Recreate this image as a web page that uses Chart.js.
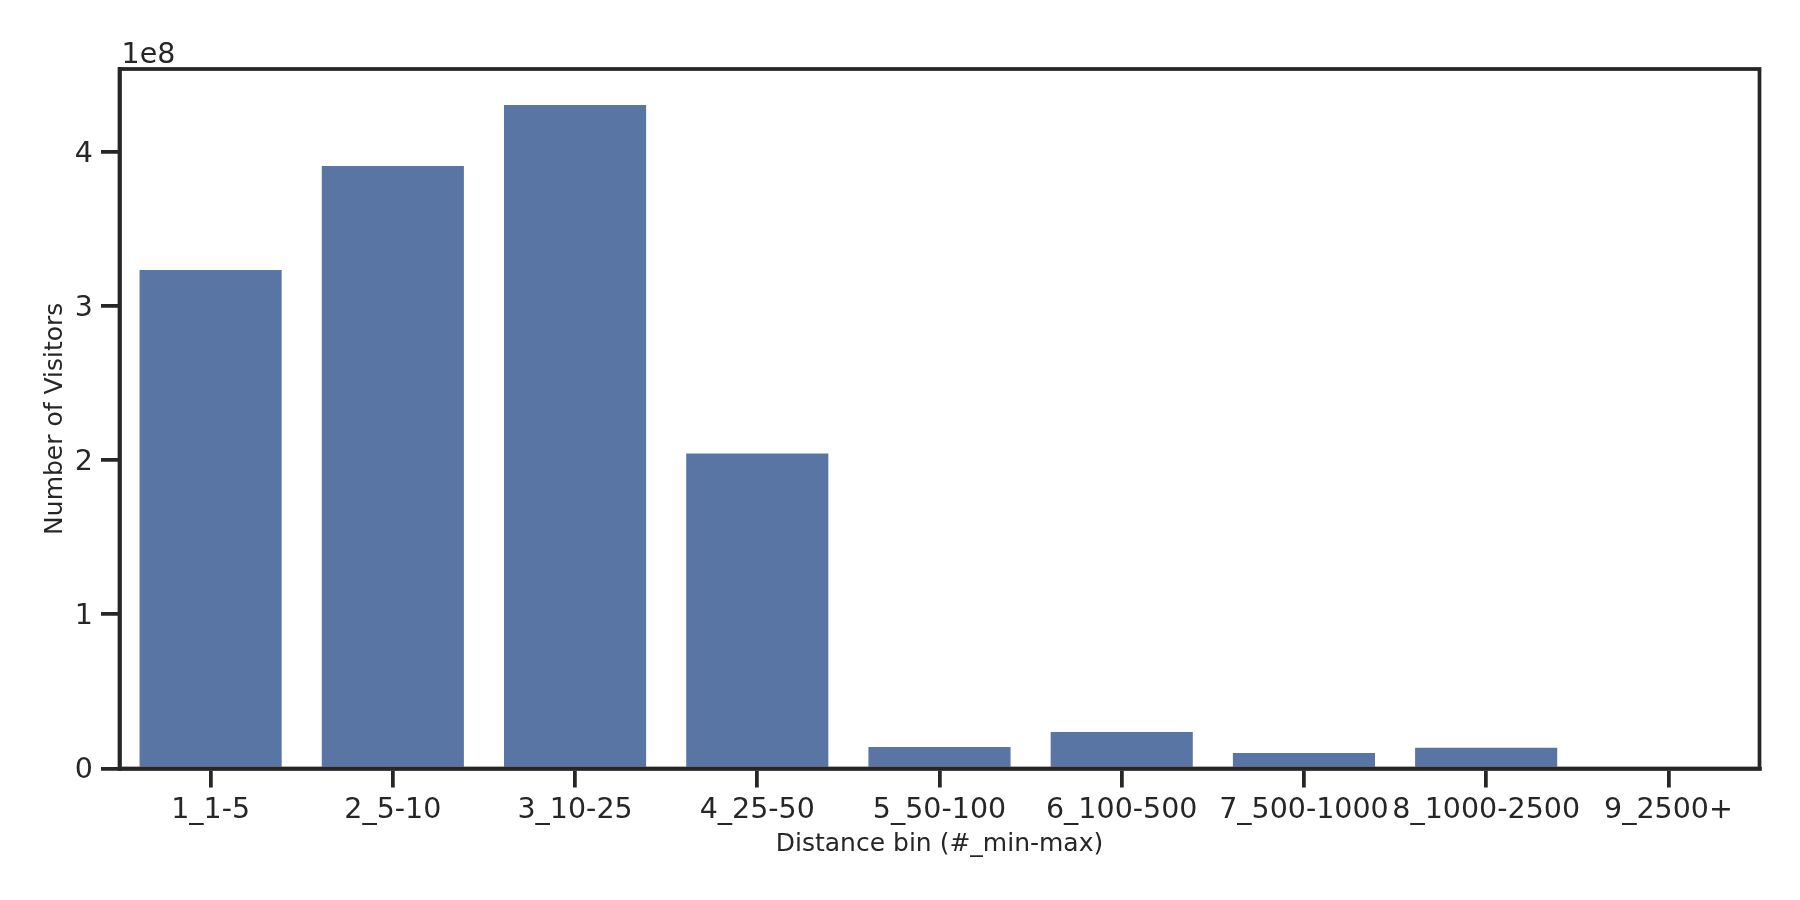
<!DOCTYPE html>
<html>
<head>
<meta charset="utf-8">
<title>Number of Visitors by distance bin</title>
<script src="https://cdn.jsdelivr.net/npm/chart.js@4.4.1/dist/chart.umd.min.js"></script>
<style>
  html, body { margin: 0; padding: 0; background: #fff; }
  #wrap { width: 1800px; height: 900px; }
</style>
</head>
<body>
<div id="wrap"><canvas id="chart" width="1800" height="900"></canvas></div>
<script>
  // --- data ---
  const categories = ['1_1-5', '2_5-10', '3_10-25', '4_25-50', '5_50-100',
    '6_100-500', '7_500-1000', '8_1000-2500', '9_2500+'];
  const visitors = [3.233e8, 3.907e8, 4.303e8, 2.043e8, 0.139e8,
    0.237e8, 0.100e8, 0.134e8, 0];
  const yTickValues = [0, 1, 2, 3, 4];   // in units of yScaleFactor
  const yScaleFactor = 1e8;
  const yOffsetLabel = '1e8';
  const yMax = 4.536e8;

  const ink = '#262626';
  const barBlue = '#5975a4';
  const fontFamily = "'DejaVu Sans', sans-serif";
  const tickFontSize = 28.5;

  // top/right spines and the matplotlib-style offset label
  const framePlugin = {
    id: 'frame',
    afterDraw(chart) {
      const { ctx, chartArea: a } = chart;
      ctx.save();
      ctx.strokeStyle = ink;
      ctx.lineWidth = 3.75;
      ctx.strokeRect(a.left, a.top, a.right - a.left, a.bottom - a.top);
      ctx.fillStyle = ink;
      ctx.font = tickFontSize + 'px ' + fontFamily;
      ctx.textAlign = 'left';
      ctx.textBaseline = 'alphabetic';
      ctx.fillText(yOffsetLabel, a.left + 2, 62.5);
      ctx.restore();
    }
  };

  new Chart(document.getElementById('chart'), {
    type: 'bar',
    data: {
      labels: categories,
      datasets: [{
        label: 'Number of Visitors',
        data: visitors,
        backgroundColor: barBlue,
        borderWidth: 0,
        categoryPercentage: 0.78,
        barPercentage: 1.0
      }]
    },
    options: {
      responsive: false,
      devicePixelRatio: 1,
      animation: false,
      layout: { padding: { top: 69, right: 40.5, left: 0, bottom: 0 } },
      plugins: {
        legend: { display: false },
        tooltip: { enabled: false }
      },
      scales: {
        x: {
          grid: {
            offset: false,
            drawOnChartArea: false,
            drawTicks: true,
            tickLength: 19,
            lineWidth: 3.75,
            color: ink
          },
          border: { display: true, color: ink, width: 3.75 },
          ticks: {
            autoSkip: false,
            maxRotation: 0,
            minRotation: 0,
            padding: 5.5,
            color: ink,
            font: { family: fontFamily, size: tickFontSize }
          },
          title: {
            display: true,
            text: 'Distance bin (#_min-max)',
            color: ink,
            font: { family: fontFamily, size: 25, lineHeight: 1.2 },
            padding: { top: 0, bottom: 41 }
          },
          afterFit(scale) { scale.height = 131.5; }
        },
        y: {
          min: 0,
          max: yMax,
          grid: {
            drawOnChartArea: false,
            drawTicks: true,
            tickLength: 18.5,
            lineWidth: 3.75,
            color: ink
          },
          border: { display: true, color: ink, width: 3.75 },
          ticks: {
            padding: 8,
            labelOffset: 2.5,
            color: ink,
            font: { family: fontFamily, size: tickFontSize },
            callback: (v) => String(Math.round(v / yScaleFactor))
          },
          afterBuildTicks(scale) {
            scale.ticks = yTickValues.map((t) => ({ value: t * yScaleFactor }));
          },
          title: {
            display: true,
            text: 'Number of Visitors',
            color: ink,
            font: { family: fontFamily, size: 25, lineHeight: 1.2 },
            padding: { top: 40.5, bottom: 0 }
          },
          afterFit(scale) { scale.width = 119.5; }
        }
      }
    },
    plugins: [framePlugin]
  });
</script>
</body>
</html>
